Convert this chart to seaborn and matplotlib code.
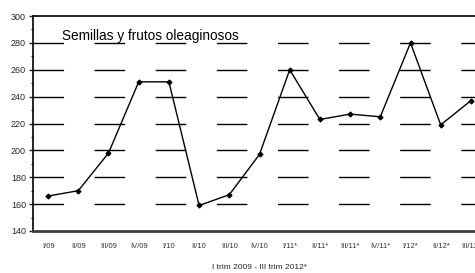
import matplotlib
matplotlib.use("Agg")
import matplotlib.pyplot as plt
import seaborn as sns
import pandas as pd
from matplotlib.ticker import MultipleLocator, FixedLocator

categories = ["I/09", "II/09", "III/09", "IV/09", "I/10", "II/10", "III/10", "IV/10",
              "I/11*", "II/11*", "III/11*", "IV/11*", "I/12*", "II/12*", "III/12*"]
values = [166, 170, 198, 251, 251, 159, 167, 197, 260, 223, 227, 225, 280, 219, 237]
yticks = [140, 160, 180, 200, 220, 240, 260, 280, 300]
title = "Semillas y frutos oleaginosos"
xlabel = "I trim 2009 - III trim 2012*"

sns.set_style("white")
plt.rcParams['font.family'] = ['Liberation Sans', 'DejaVu Sans']

df = pd.DataFrame({"cat": categories, "val": values, "pos": range(len(categories))})

fig = plt.figure(figsize=(4.75, 2.73), dpi=100)
ax = fig.add_axes([33/475, 1-231/273, 453/475, 215/273])

for y in yticks[1:-1]:
    ax.axhline(y, color="black", lw=1.0, dashes=(22, 22), zorder=1)

sns.lineplot(data=df, x="pos", y="val", ax=ax, color="black", lw=1.0,
             marker="D", markersize=2.6, markeredgecolor="black", zorder=3)

ax.set_xlim(-0.5, len(categories) - 0.5)
ax.set_ylim(140, 300)
ax.set_yticks(yticks)
ax.yaxis.set_minor_locator(MultipleLocator(10))
ax.set_yticklabels([str(v) for v in yticks], fontsize=6.5)
ax.set_xticks(range(len(categories)))
ax.set_xticklabels(categories, fontsize=5.5, color="#333333")
ax.xaxis.set_minor_locator(FixedLocator([i - 0.5 for i in range(len(categories) + 1)]))
ax.tick_params(axis="x", which="major", length=0, pad=9)
ax.tick_params(axis="x", which="minor", length=3, width=1, direction="in", color="#404040")
ax.tick_params(axis="y", which="major", length=3, width=1, direction="out", left=True, pad=2)
ax.tick_params(axis="y", which="minor", length=1.5, width=0.8, direction="out", left=True)

ax.set_xlabel(xlabel, fontsize=6, labelpad=10)
ax.set_ylabel("")

for s in ["left", "top"]:
    ax.spines[s].set_color("black")
    ax.spines[s].set_linewidth(1.2)
ax.spines["bottom"].set_color("#404040")
ax.spines["bottom"].set_linewidth(2)
ax.spines["right"].set_visible(False)

ax.text(62/475, 1-40/273, title, transform=fig.transFigure, fontsize=9.8,
        ha="left", va="baseline", color="black")

fig.savefig("out.png", dpi=100)
